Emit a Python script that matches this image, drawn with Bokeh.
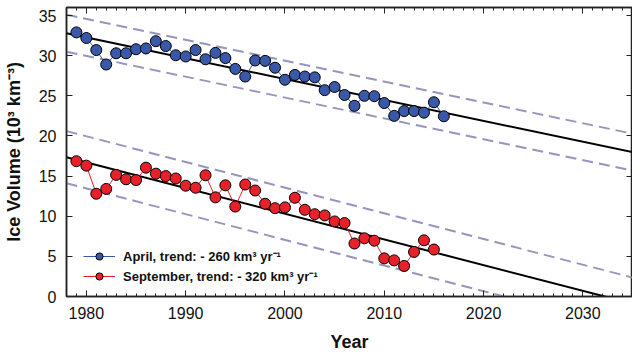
from bokeh.plotting import figure
from bokeh.models import (Range1d, LinearAxis, SingleIntervalTicker, Legend, LegendItem,
                          CustomJSTickFormatter)
from bokeh.embed import file_html
from bokeh.resources import INLINE

# ---- data ----
april_years = list(range(1979, 2017))
april_vol = [32.9, 32.2, 30.7, 28.9, 30.3, 30.3, 30.8, 30.9, 31.8, 31.2,
             30.05, 29.9, 30.7, 29.55, 30.35, 29.7, 28.35, 27.4, 29.4, 29.35,
             28.5, 27.0, 27.6, 27.4, 27.3, 25.7, 26.1, 25.1, 23.75, 25.0,
             24.95, 24.1, 22.5, 23.1, 23.1, 22.9, 24.2, 22.45]

sept_years = list(range(1979, 2016))
sept_vol = [16.85, 16.3, 12.8, 13.4, 15.15, 14.6, 14.5, 16.05, 15.3, 15.0,
            14.7, 13.8, 13.55, 15.1, 12.35, 13.85, 11.2, 13.95, 13.2, 11.55,
            11.0, 11.1, 12.3, 10.8, 10.25, 10.1, 9.35, 9.15, 6.6, 7.25,
            6.95, 4.75, 4.5, 3.8, 5.55, 7.0, 5.85]

# trend lines (value at 1978, slope per year, band half-width)
trend_years = [1978, 2035]
april_trend_start, april_slope, april_band = 32.8, -0.26, 2.3
sept_trend_start, sept_slope, sept_band = 17.35, -0.32, 3.25

april_label = "April, trend: - 260 km³ yr⁻¹"
sept_label = "September, trend: - 320 km³ yr⁻¹"

FONT = "Liberation Sans"
BLUE = "#3a58a8"
RED = "#e8202a"
DASH = "#9595c0"

def trend(start, slope, off=0.0):
    return [start + slope * (y - 1978) + off for y in trend_years]

p = figure(width=632, height=354, x_range=Range1d(1978, 2035), y_range=Range1d(0, 36),
           output_backend="svg", toolbar_location=None,
           min_border_left=58, min_border_right=0, min_border_top=7, min_border_bottom=50)
p.xgrid.visible = False
p.ygrid.visible = False
p.outline_line_color = "#222222"
p.outline_line_width = 1.5

# trend lines and bands
for start, slope, band in [(april_trend_start, april_slope, april_band),
                           (sept_trend_start, sept_slope, sept_band)]:
    p.line(trend_years, trend(start, slope, band), line_color=DASH, line_width=2, line_dash="11 6")
    p.line(trend_years, trend(start, slope, -band), line_color=DASH, line_width=2, line_dash="11 6")
    p.line(trend_years, trend(start, slope), line_color="black", line_width=2)

# series
al = p.line(april_years, april_vol, line_color=BLUE, line_width=1)
asc = p.scatter(april_years, april_vol, size=11, fill_color=BLUE, line_color="black", line_width=1)
sl = p.line(sept_years, sept_vol, line_color=RED, line_width=1)
ssc = p.scatter(sept_years, sept_vol, size=11, fill_color=RED, line_color="black", line_width=1)

# axes
def style_axis(ax, labels=True):
    ax.major_tick_in = 6
    ax.major_tick_out = 0
    ax.minor_tick_in = 3
    ax.minor_tick_out = 0
    ax.axis_line_color = "#222222"
    ax.axis_line_width = 1.5
    ax.major_tick_line_color = "#222222"
    ax.minor_tick_line_color = "#222222"
    if labels:
        ax.major_label_text_font = FONT
        ax.major_label_text_font_size = "16px"
        ax.major_label_text_color = "#111111"
        ax.axis_label_text_font = FONT
        ax.axis_label_text_font_size = "18px"
        ax.axis_label_text_font_style = "bold"
        ax.axis_label_text_color = "#111111"
    else:
        ax.formatter = CustomJSTickFormatter(code="return ''")
        ax.major_label_standoff = 0
        ax.axis_label_standoff = 0

xt = SingleIntervalTicker(interval=10, num_minor_ticks=10)
yt = SingleIntervalTicker(interval=5, num_minor_ticks=0)

p.xaxis.ticker = xt
p.yaxis.ticker = yt
style_axis(p.xaxis[0])
style_axis(p.yaxis[0])
p.xaxis.axis_label = "Year"
p.yaxis.axis_label = "Ice Volume (10³ km⁻³)"
p.xaxis.major_label_standoff = 10
p.yaxis.major_label_standoff = 10
p.xaxis.axis_label_standoff = 10
p.yaxis.axis_label_standoff = 12

top = LinearAxis(ticker=SingleIntervalTicker(interval=10, num_minor_ticks=10))
style_axis(top, labels=False)
p.add_layout(top, "above")
right = LinearAxis(ticker=SingleIntervalTicker(interval=5, num_minor_ticks=0))
style_axis(right, labels=False)
p.add_layout(right, "right")

legend = Legend(items=[LegendItem(label=april_label, renderers=[al, asc]),
                       LegendItem(label=sept_label, renderers=[sl, ssc])],
                location=(17, 11), padding=0, margin=0, spacing=2,
                glyph_width=32, glyph_height=18, label_height=18, label_standoff=8,
                label_text_font=FONT, label_text_font_size="13px", label_text_font_style="bold",
                label_text_color="#111111",
                background_fill_alpha=0, border_line_alpha=0)
p.add_layout(legend, "center")

open("out.html", "w").write(file_html(p, INLINE))
